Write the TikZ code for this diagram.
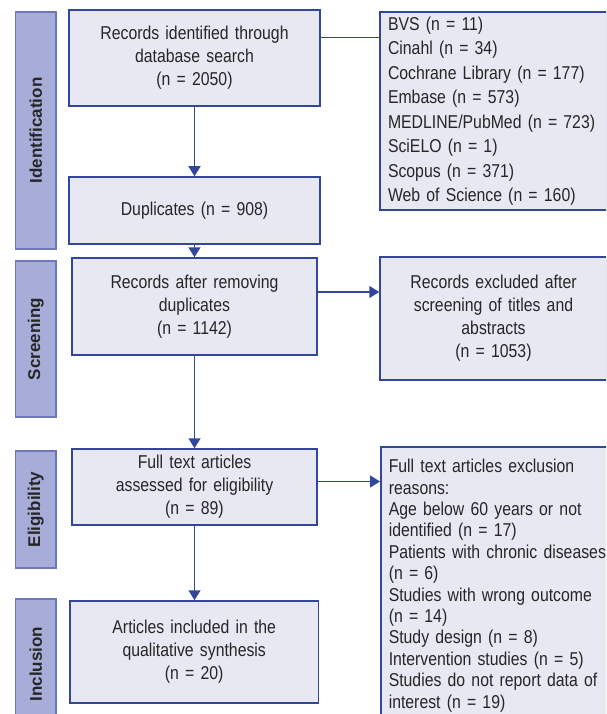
\documentclass[tikz,border=0pt]{standalone}
\usepackage{fontspec}
\setmainfont{Liberation Sans}[FakeStretch=0.85]
\newfontfamily\barfont{Liberation Sans}
\usetikzlibrary{arrows.meta}

\definecolor{boxfill}{HTML}{E7E8F2}
\definecolor{boxline}{HTML}{33479A}
\definecolor{barfill}{HTML}{A8ACD8}
\definecolor{barline}{HTML}{6E77B9}
\definecolor{txt}{HTML}{262626}

\tikzset{
  stage/.style={draw=barline, fill=barfill, line width=1.2pt, rotate=90,
    minimum height=40.5pt, inner sep=0pt, text=txt,
    font=\barfont\bfseries\fontsize{17}{20}\selectfont},
  flowbox/.style={draw=boxline, fill=boxfill, line width=1.5pt, align=center,
    inner xsep=8pt, inner ysep=0pt, text=txt,
    font=\fontsize{18.6}{23}\selectfont},
  listbox/.style={flowbox, align=left},
  flow/.style={draw=boxline, line width=1.5pt},
  arr/.style={flow, -{Triangle[width=12pt,length=10pt]}}
}

\begin{document}
\begin{tikzpicture}[x=1pt,y=-1pt]
  \useasboundingbox (0,0) rectangle (606,714);
  \clip (0,0) rectangle (606,714);

  \node[stage, minimum width=237pt] (ident) at (35.75,130.5) {Identification};
  \node[stage, minimum width=156pt] (scrn) at (35.75,339) {Screening};
  \node[stage, minimum width=117pt] (elig) at (35.75,509.5) {Eligibility};
  \node[stage, minimum width=130pt] (incl) at (35.75,664) {Inclusion};

  \node[flowbox, text width=235pt, minimum height=96pt] (srch) at (194.5,58)
    {Records identified through\\database search\\(n = 2050)};
  \node[flowbox, text width=235pt, minimum height=67pt] (dupl) at (194.5,210.5)
    {Duplicates (n = 908)};
  \node[flowbox, text width=229pt, minimum height=97pt] (rmvd) at (194.5,306.5)
    {Records after removing\\duplicates\\(n = 1142)};
  \node[flowbox, text width=229pt, minimum height=76pt] (full) at (194.5,487)
    {Full text articles\\assessed for eligibility\\(n = 89)};
  \node[flowbox, text width=232.5pt, minimum height=102pt] (syn) at (194.25,652)
    {Articles included in the\\qualitative synthesis\\(n = 20)};

  \node[listbox, text width=211pt, minimum height=198pt,
    font=\fontsize{18.6}{24.5}\selectfont] (dbs) at (493.5,111)
    {BVS (n = 11)\\Cinahl (n = 34)\\Cochrane Library (n = 177)\\Embase (n = 573)\\
     MEDLINE/PubMed (n = 723)\\SciELO (n = 1)\\Scopus (n = 371)\\Web of Science (n = 160)};
  \node[flowbox, text width=211pt, minimum height=123pt] (excl) at (493.5,318.5)
    {Records excluded after\\screening of titles and\\abstracts\\(n = 1053)};
  \node[listbox, text width=225pt, inner ysep=12.5pt, anchor=north west,
    font=\fontsize{18.6}{21.4}\selectfont] (rsns) at (380,446)
    {Full text articles exclusion\\reasons:\\Age below 60 years or not\\identified (n = 17)\\
     Patients with chronic diseases\\(n = 6)\\Studies with wrong outcome\\(n = 14)\\
     Study design (n = 8)\\Intervention studies (n = 5)\\Studies do not report data of\\
     interest (n = 19)};

  \draw[flow] ([yshift=20.5pt]srch.east) -- ([yshift=20.5pt]srch.east -| dbs.west);
  \draw[arr] (srch) -- (dupl);
  \draw[arr] (dupl) -- (rmvd);
  \draw[arr] ([yshift=14.5pt]rmvd.east) -- ([yshift=14.5pt]rmvd.east -| excl.west);
  \draw[arr] (rmvd) -- (full);
  \draw[arr] ([yshift=5.5pt]full.east) -- ([yshift=5.5pt]full.east -| rsns.west);
  \draw[arr] (full.south) -- (full.south |- syn.north);
\end{tikzpicture}
\end{document}
